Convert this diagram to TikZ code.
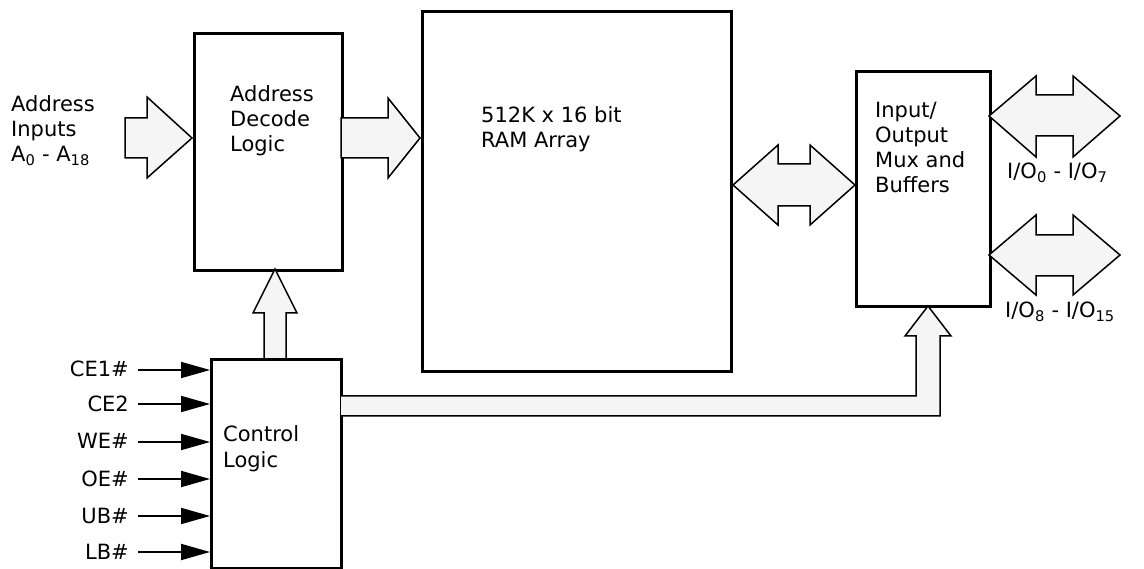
\documentclass[tikz,border=0pt]{standalone}
\usepackage{fontspec}
\setmainfont{DejaVu Sans}
\usetikzlibrary{arrows.meta}
\definecolor{bfill}{HTML}{F5F5F5}
\begin{document}
\begin{tikzpicture}[x=1pt,y=-1pt,
  box/.style={draw,line width=3pt,inner sep=0,anchor=north west},
  blk/.style={draw,line width=1.5pt,fill=bfill,line join=miter},
  lbl/.style={font=\fontsize{21}{25}\selectfont,align=left,inner sep=0,anchor=base west},
  siglbl/.style={font=\fontsize{21}{25}\selectfont,inner sep=0,anchor=base east},
  sig/.style={line width=1.8pt,-{Triangle[length=29pt,width=16pt]}},
]
\useasboundingbox (0,0) rectangle (1144,569);

% boxes
\node[box,minimum width=148pt,minimum height=237pt] (dec) at (193,32) {};
\node[box,minimum width=309pt,minimum height=360pt] (ram) at (421,10) {};
\node[box,minimum width=134pt,minimum height=235pt] (io) at (855,70) {};
\node[box,minimum width=130pt,minimum height=209pt] (ctrl) at (210,358) {};

% texts (base anchor = last line)
\node[lbl] (tin) at (11,162) {Address\\Inputs\\A\textsubscript{0} - A\textsubscript{18}};
\node[lbl] (tdec) at (230,152) {Address\\Decode\\Logic};
\node[lbl] (tram) at (481,148) {512K x 16 bit\\RAM Array};
\node[lbl] (tio) at (875,193) {Input/\\Output\\Mux and\\Buffers};
\node[lbl] (tctrl) at (223,467) {Control\\Logic};
\node[lbl] (tio0) at (1007,179) {I/O\textsubscript{0} - I/O\textsubscript{7}};
\node[lbl] (tio8) at (1005,318) {I/O\textsubscript{8} - I/O\textsubscript{15}};

% block arrows
\draw[blk] (125,118) -- (147,118) -- (147,97) -- (192,138) -- (147,178) -- (147,158) -- (125,158) -- cycle;
\draw[blk] (341,118) -- (388,118) -- (388,98) -- (420,138) -- (388,178) -- (388,158) -- (341,158) -- cycle;
\draw[blk] (733,185) -- (778,145) -- (778,164) -- (810,164) -- (810,145) -- (855,185)
  -- (810,225) -- (810,206) -- (778,206) -- (778,225) -- cycle;
\draw[blk] (989,116) -- (1036,76) -- (1036,95) -- (1073,95) -- (1073,76) -- (1120,116)
  -- (1073,157) -- (1073,136) -- (1036,136) -- (1036,157) -- cycle;
\draw[blk] (989,255) -- (1036,215) -- (1036,235) -- (1073,235) -- (1073,215) -- (1120,255)
  -- (1073,295) -- (1073,276) -- (1036,276) -- (1036,295) -- cycle;
\draw[blk] (264,358) -- (264,313) -- (253,313) -- (275,269) -- (297,313) -- (286,313) -- (286,358);
\draw[blk] (341,396) -- (916,396) -- (916,336) -- (905,336) -- (928,306) -- (951,336) -- (940,336) -- (940,416) -- (341,416);

% control signals
\foreach \n/\t/\y in {ce1/CE1\#/370, ce2/CE2/404, we/WE\#/442, oe/OE\#/479, ub/UB\#/516, lb/LB\#/552}{
  \node[siglbl] (\n) at (129,\y+7) {\t};
  \coordinate (\n s) at (138,\y);
  \draw[sig] (\n s) -- (ctrl.west |- \n s);
}
\end{tikzpicture}
\end{document}
